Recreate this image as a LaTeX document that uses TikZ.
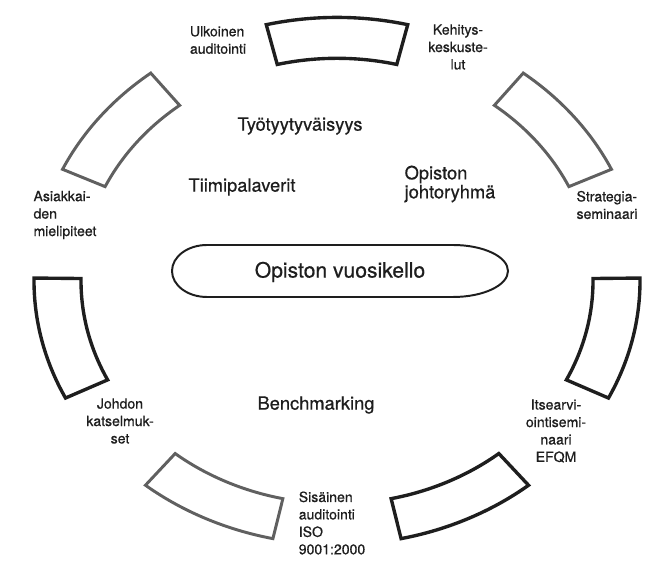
\documentclass[tikz,border=0pt]{standalone}
\usepackage{fontspec}
\setmainfont{TeX Gyre Heros}[FakeBold=0.6]
\definecolor{Ink}{HTML}{1E1E1E}
\definecolor{Faded}{HTML}{606060}
\begin{document}
\begin{tikzpicture}[
  segdark/.style={draw=Ink,line width=2.4pt},
  seggrey/.style={draw=Faded,line width=2.1pt},
  phase/.style={font=\fontsize{10}{12.4}\selectfont,text=Ink,inner sep=0pt},
  topic/.style={font=\fontsize{13}{13.5}\selectfont,text=Ink,inner sep=0pt},
  hub/.style={font=\fontsize{15}{18}\selectfont,text=Ink,inner sep=0pt}
]
\useasboundingbox (0,0) rectangle (16.525,14.325);
% the seven phases of the year
\begin{scope}[shift={(8.425,7.3)}]
\foreach \ang/\sty in {90/segdark,38.57/seggrey,-12.86/segdark,-64.29/segdark,-115.71/seggrey,-167.14/segdark,141.43/seggrey} {
  \draw[\sty] (\ang-13.5:7.575 and 6.59)
    arc[start angle=\ang-13.5,end angle=\ang+13.5,x radius=7.575,y radius=6.59]
    -- (\ang+13.5:6.4 and 5.5675)
    arc[start angle=\ang+13.5,end angle=\ang-13.5,x radius=6.4,y radius=5.5675] -- cycle;
}
\end{scope}
\node[phase,align=left] (ulk) at (5.45,13.325) {Ulkoinen\\auditointi};
\node[phase,align=center] (keh) at (11.45,13.15) {Kehitys-\\keskuste-\\lut};
\node[phase,align=left] (strat) at (15.175,9.2) {Strategia-\\seminaari};
\node[phase,align=center] (itse) at (13.9,3.55) {Itsearvi-\\ointisemi-\\naari\\EFQM};
\node[phase,align=left] (sis) at (8.3,1.25) {Sisäinen\\auditointi\\ISO\\9001:2000};
\node[phase,align=center] (joh) at (3.0,3.8) {Johdon\\katselmuk-\\set};
\node[phase,align=left] (asi) at (1.625,8.95) {Asiakkai-\\den\\mielipiteet};
% inside the ring
\node[topic] (tyo) at (7.5,11.175) {Työtyytyväisyys};
\node[topic] (tiimi) at (6.05,9.65) {Tiimipalaverit};
\node[topic,align=left] (jory) at (11.25,9.725) {Opiston\\johtoryhmä};
\node[topic] (bench) at (7.9,4.2) {Benchmarking};
\node[hub] (kello) at (8.5,7.525) {Opiston vuosikello};
\draw[Ink,line width=1.4pt] (5.175,8.2) -- (11.325,8.2)
  arc[start angle=90,end angle=-90,x radius=1.375,y radius=0.65]
  -- (5.175,6.9) arc[start angle=270,end angle=90,x radius=0.875,y radius=0.65] -- cycle;
\end{tikzpicture}
\end{document}
